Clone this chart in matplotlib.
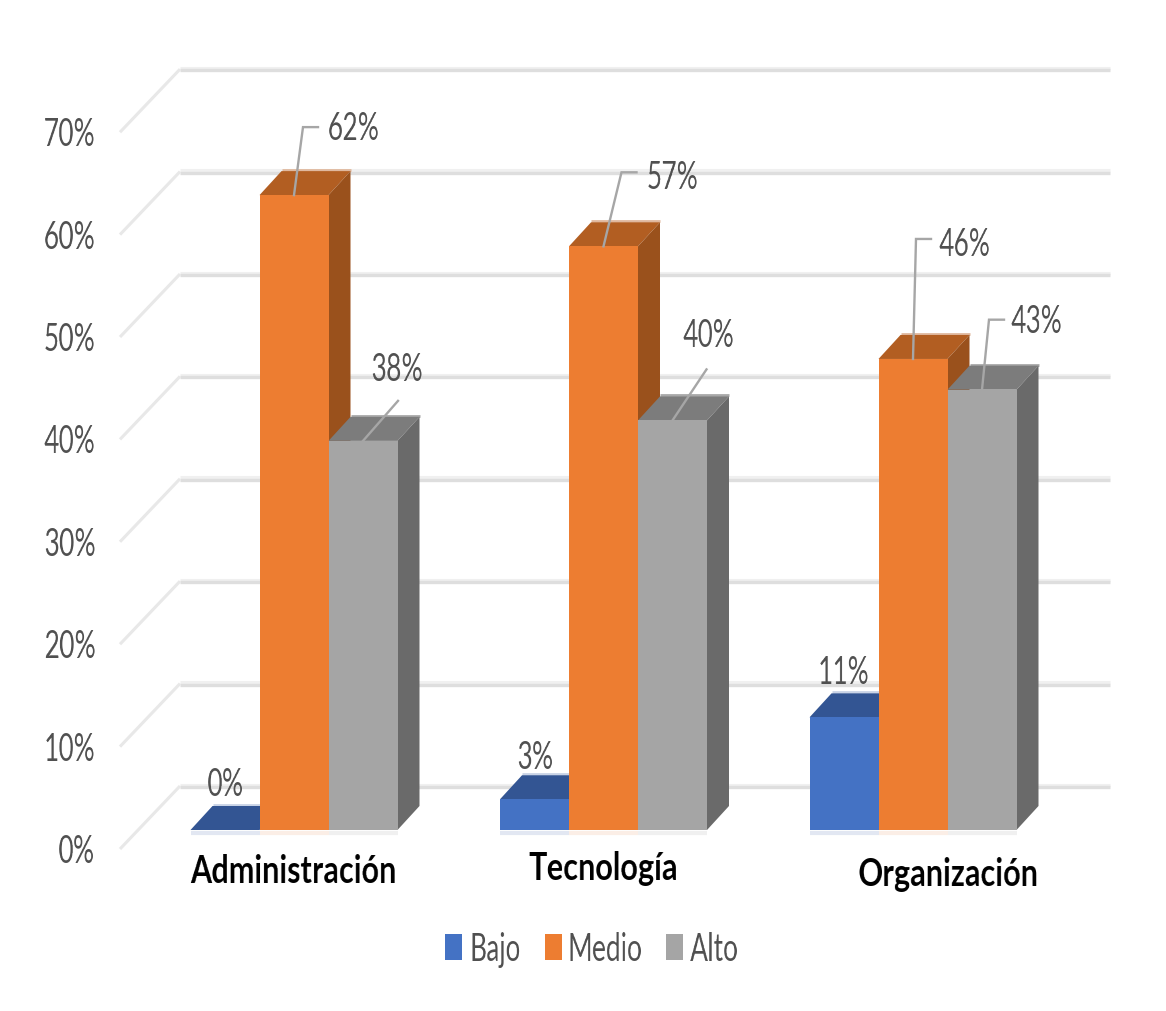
import numpy as np
import matplotlib
matplotlib.use("Agg")
import matplotlib.pyplot as plt
from matplotlib.patches import Rectangle

plt.rcParams["font.family"] = ["Lato", "DejaVu Sans"]

categories = ["Administración", "Tecnología", "Organización"]
series = ["Bajo", "Medio", "Alto"]
bajo = [0, 3, 11]
medio = [62, 57, 46]
alto = [38, 40, 43]
y_ticks = [0, 10, 20, 30, 40, 50, 60, 70]

front = ["#4472c4", "#ed7d31", "#a5a5a5"]
top = ["#335593", "#b25e22", "#7c7c7c"]
side = ["#2b4a80", "#9a511c", "#6a6a6a"]
rim = ["#c9d3e6", "#e0b89e", "#a8a8a8"]
floor = ["#e2e7f2", "#fbeee6", "#f0f0f0"]
TXT = "#505050"

W, H = 1166, 1012
fig = plt.figure(figsize=(W / 100, H / 100), dpi=100, facecolor="white")
ax = fig.add_axes([0, 0, 1, 1])
ax.axis("off")

# one category step and one percent, in pixels
STEP = 309.5
PCT = 10.24
ax.set_xlim(-294 / STEP, (W - 294) / STEP)
ax.set_ylim(-(H - 831) / PCT, 831 / PCT)


def px_x(n):
    return n / STEP


def px_y(n):
    return n / PCT


# condensed lettering: squeeze a text's pixels sideways about its centre
def narrow(factor):
    def _filter(img, dpi):
        h, w = img.shape[:2]
        new_w = max(1, int(round(w * factor)))
        xs = np.linspace(0, w - 1, new_w)
        i0 = np.floor(xs).astype(int)
        i1 = np.minimum(i0 + 1, w - 1)
        t = (xs - i0)[None, :, None]
        out = img[:, i0] * (1 - t) + img[:, i1] * t
        return out, (w - new_w) // 2, 0
    return _filter


def label(x, y, s, factor=0.68, **kw):
    kw.setdefault("fontsize", 28)
    kw.setdefault("color", TXT)
    kw.setdefault("zorder", 7)
    t = ax.text(x, y, s, ha="center", va="center", **kw)
    t.set_agg_filter(narrow(factor))
    return t


bar_w = px_x(69)
depth_x = px_x(22)
depth_y = px_y(24)

# walls and gridlines
wall_left = px_x(180 - 294)
wall_front = px_x(120 - 294)
wall_right = px_x(1110 - 294)
for t in y_ticks:
    back = t + px_y(44)
    ax.plot([wall_left, wall_right], [back + px_y(1.5)] * 2, color="#f0f0f0", lw=2.2, solid_capstyle="butt", zorder=1)
    ax.plot([wall_left, wall_right], [back - px_y(1)] * 2, color="#dedede", lw=2.4, solid_capstyle="butt", zorder=1)
    ax.plot([wall_front, wall_left], [t - px_y(19), back], color="#e8e8e8", lw=2.2, solid_capstyle="butt", zorder=1)
    half = 25 if t else 18
    label(px_x(95 - half - 294), t - px_y(21), f"{t}%")

# bars: one front face from ax.bar, plus top and side faces
for s, values in enumerate([bajo, medio, alto]):
    for c, v in enumerate(values):
        x0 = c + (s - 1) * bar_w - bar_w / 2
        x1 = x0 + bar_w
        z = 2 + s + c * 0.1
        ax.plot([x0, x1], [-px_y(3)] * 2, color=floor[s], lw=3, solid_capstyle="butt", zorder=1.5)
        ax.plot([x0 + depth_x, x1 + depth_x], [v + depth_y + px_y(1)] * 2, color=rim[s], lw=2,
                solid_capstyle="butt", zorder=z)
        ax.fill([x0, x1, x1 + depth_x, x0 + depth_x], [v, v, v + depth_y, v + depth_y],
                color=top[s], lw=0, zorder=z)
        ax.fill([x1, x1 + depth_x, x1 + depth_x, x1], [0, depth_y, v + depth_y, v],
                color=side[s], lw=0, zorder=z)
        ax.bar(x0, v, width=bar_w, align="edge", color=front[s], lw=0, zorder=z)


# value labels, leaders are (start at bar top, elbow, end) offsets in pixels
def value_label(c, s, v, text_off, leader=None):
    xc = c + (s - 1) * bar_w
    if leader:
        xs = [xc + px_x(p[0]) for p in leader]
        ys = [v + px_y(p[1]) for p in leader]
        ax.plot(xs, ys, color="#a6a6a6", lw=1.7, zorder=6, solid_joinstyle="miter")
    label(xc + px_x(text_off[0]), v + px_y(text_off[1]), f"{v}%")


value_label(0, 0, bajo[0], (1, 46))
value_label(1, 0, bajo[1], (1, 42))
value_label(2, 0, bajo[2], (0, 45))
value_label(0, 1, medio[0], (60, 67), [(0, 0), (9, 68), (24, 68)])
value_label(1, 1, medio[1], (69, 69), [(0, 0), (18, 74), (33, 74)])
value_label(2, 1, medio[2], (52, 115), [(0, 0), (3, 120), (18, 120)])
value_label(0, 2, alto[0], (34, 72), [(0, 0), (35, 40)])
value_label(1, 2, alto[1], (36, 85), [(0, 0), (34, 51)])
value_label(2, 2, alto[2], (55, 69), [(0, 0), (7, 70), (22, 70)])

# category names
cat_off = [(0.5, -41), (0, -38), (36, -44)]
for c, name in enumerate(categories):
    label(c + px_x(cat_off[c][0]), px_y(cat_off[c][1]), name, factor=0.79,
          fontweight="bold", color="black")

# legend
leg_sq = [445, 545, 666]
leg_txt = [495, 605.5, 714.5]
leg_y = px_y(831 - 948)
for i, name in enumerate(series):
    ax.add_patch(Rectangle((px_x(leg_sq[i] - 294), leg_y - px_y(13)), px_x(17), px_y(26),
                           facecolor=front[i], lw=0, zorder=6))
    label(px_x(leg_txt[i] - 294), leg_y - px_y(2), name)

fig.savefig("out.png", dpi=100, facecolor="white")
